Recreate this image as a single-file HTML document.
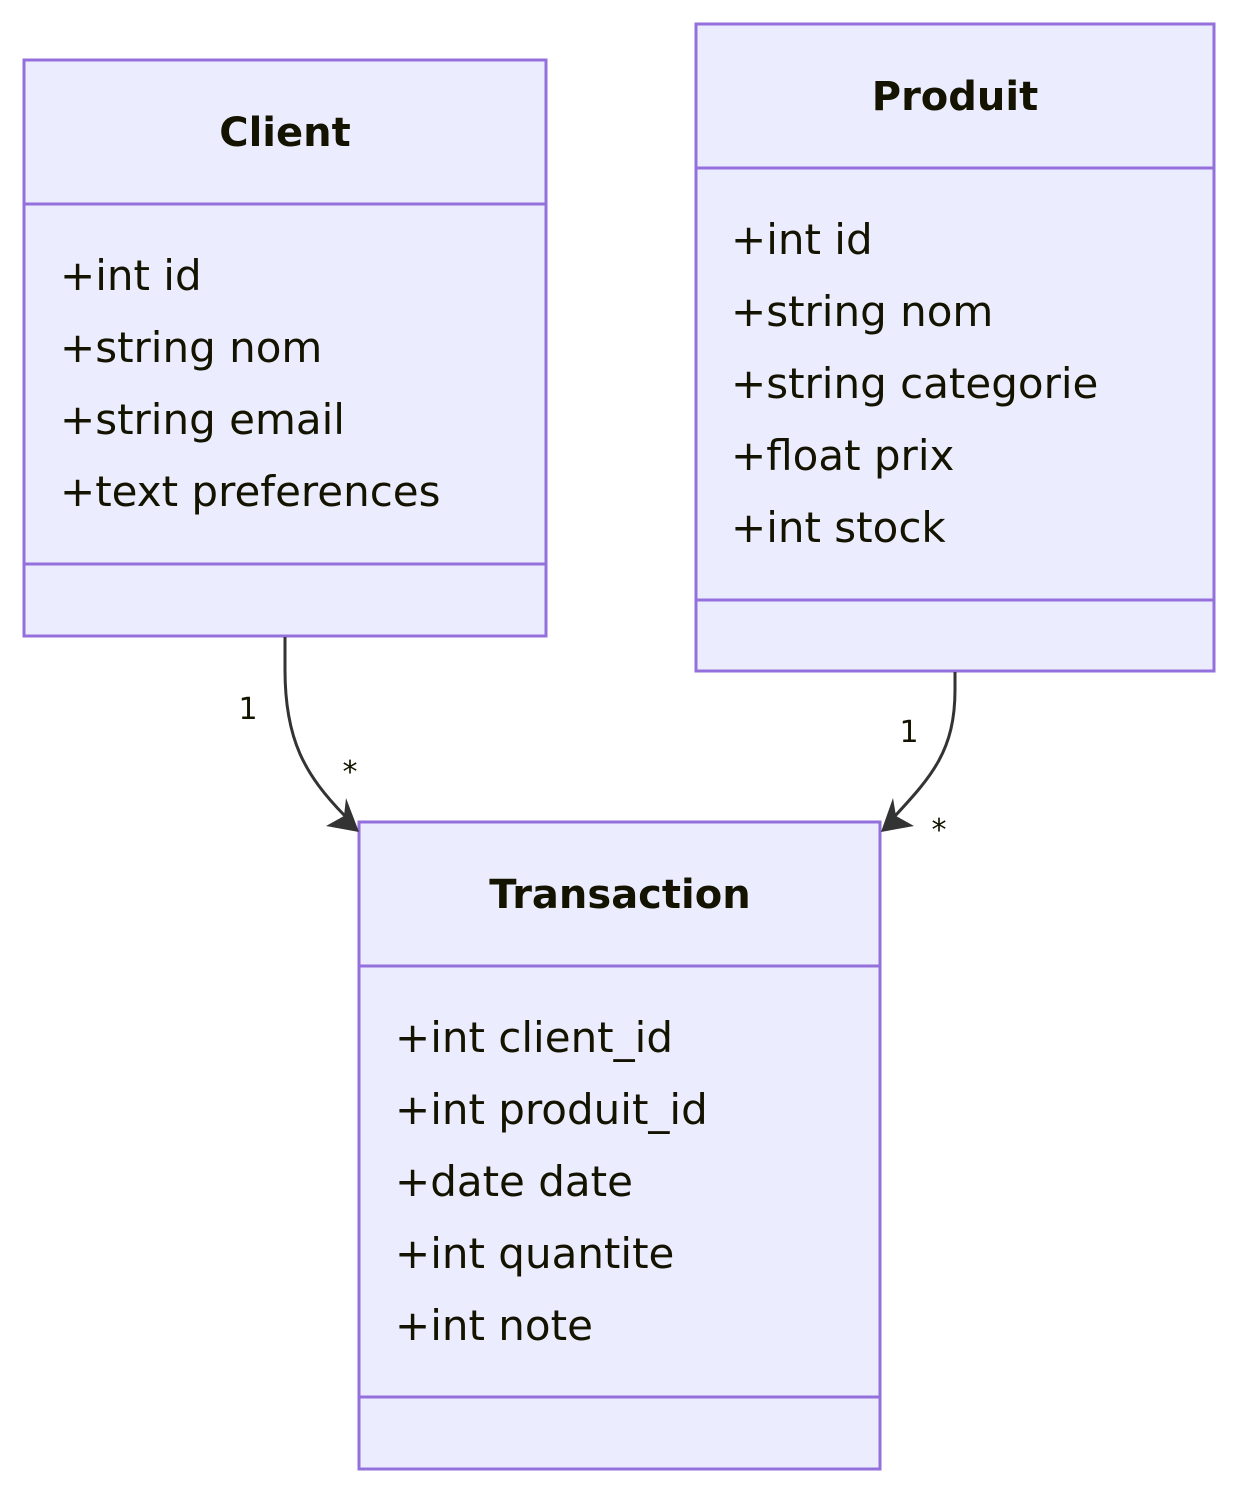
<!DOCTYPE html>
<html><head><meta charset="utf-8"><style>
html,body{margin:0;padding:0;background:#fff;}
svg{display:block;}
.t{font-family:"DejaVu Sans","Liberation Sans",sans-serif;font-size:42px;fill:#131300;}
.h{font-weight:bold;text-anchor:middle;font-size:40px;}
.l{font-family:"DejaVu Sans","Liberation Sans",sans-serif;font-size:30px;fill:#131300;text-anchor:middle;}
.b{fill:#ececff;stroke:#9370db;stroke-width:3;}
.d{stroke:#9370db;stroke-width:3;}
</style></head><body>
<svg width="1238" height="1494" viewBox="0 0 1238 1494" xmlns="http://www.w3.org/2000/svg">
<!-- Client -->
<rect class="b" x="24" y="60" width="522" height="576"/>
<line class="d" x1="24" y1="204" x2="546" y2="204"/>
<line class="d" x1="24" y1="564" x2="546" y2="564"/>
<text class="t h" x="285" y="146">Client</text>
<text class="t" x="60" y="290">+int id</text>
<text class="t" x="60" y="362">+string nom</text>
<text class="t" x="60" y="434">+string email</text>
<text class="t" x="60" y="506">+text preferences</text>
<!-- Produit -->
<rect class="b" x="696" y="24" width="518" height="647"/>
<line class="d" x1="696" y1="168" x2="1214" y2="168"/>
<line class="d" x1="696" y1="600" x2="1214" y2="600"/>
<text class="t h" x="955" y="110">Produit</text>
<text class="t" x="731" y="254">+int id</text>
<text class="t" x="731" y="326">+string nom</text>
<text class="t" x="731" y="398">+string categorie</text>
<text class="t" x="731" y="470">+float prix</text>
<text class="t" x="731" y="542">+int stock</text>
<!-- Transaction -->
<rect class="b" x="359" y="822" width="521" height="647"/>
<line class="d" x1="359" y1="966" x2="880" y2="966"/>
<line class="d" x1="359" y1="1397" x2="880" y2="1397"/>
<text class="t h" x="620" y="908">Transaction</text>
<text class="t" x="395" y="1052">+int client_id</text>
<text class="t" x="395" y="1124">+int produit_id</text>
<text class="t" x="395" y="1196">+date date</text>
<text class="t" x="395" y="1268">+int quantite</text>
<text class="t" x="395" y="1340">+int note</text>
<!-- edges -->
<path d="M285,637 L285,670 C285,740 305,775 345,816" fill="none" stroke="#333" stroke-width="3"/>
<path d="M359,832 L326,826 L344,816 L346,798 Z" fill="#333"/>
<path d="M955,672 L955,690 C955,750 932,776 895,816" fill="none" stroke="#333" stroke-width="3"/>
<path d="M881,832 L893,798 L896,816 L914,826 Z" fill="#333"/>
<text class="l" x="248" y="719">1</text>
<text class="l" x="350" y="782">*</text>
<text class="l" x="909" y="742">1</text>
<text class="l" x="939" y="840">*</text>
</svg>
</body></html>
